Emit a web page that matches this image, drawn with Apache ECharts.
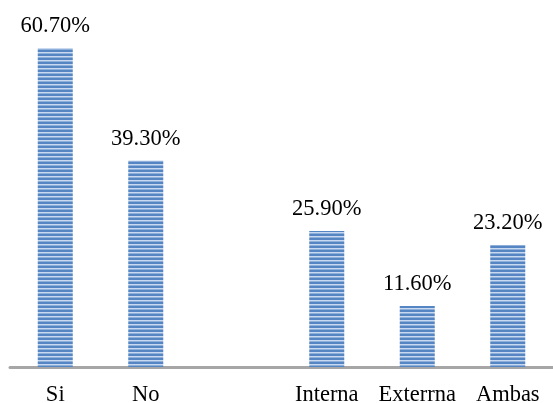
<!DOCTYPE html>
<html lang="es">
<head>
    <meta charset="UTF-8">
    <title>Respuestas</title>
    <script type="text/javascript" src="https://cdn.jsdelivr.net/npm/echarts@6/dist/echarts.min.js"></script>
    <style>
        html, body { margin: 0; padding: 0; background: #fff; }
    </style>
</head>
<body>
<div id="chart" style="width: 553px;height: 403px"></div>
<script type="text/javascript">
    // datos (el hueco entre los dos grupos es una categoria vacia)
    var categories = ['Si', 'No', '', 'Interna', 'Exterrna', 'Ambas'];
    var values = [60.7, 39.3, null, 25.9, 11.6, 23.2];

    // patron de rayas horizontales para las barras
    var stripe = document.createElement('canvas');
    stripe.width = 4;
    stripe.height = 4;
    var ctx = stripe.getContext('2d');
    ctx.fillStyle = '#5585c2';
    ctx.fillRect(0, 0, 4, 4);
    ctx.fillStyle = '#c8d9f0';
    ctx.fillRect(0, 0, 4, 1.5);

    var barData = [];
    for (var i = 0; i < values.length; i++) {
        barData.push(values[i] === null ? '-' : values[i]);
    }

    var chart = echarts.init(document.getElementById('chart'));
    var option = {
        animation: false,
        grid: { left: 10, right: 0, top: 48, bottom: 36, outerBoundsMode: 'none', containLabel: false },
        xAxis: {
            type: 'category',
            data: categories,
            axisTick: { show: false },
            axisLine: { lineStyle: { color: '#a6a6a6', width: 3 } },
            axisLabel: {
                interval: 0,
                color: '#000',
                fontFamily: 'Liberation Serif',
                fontSize: 22.5,
                margin: 17
            }
        },
        yAxis: {
            type: 'value',
            min: 0,
            max: 60.7,
            show: false,
            splitLine: { show: false }
        },
        series: [
            {
                type: 'bar',
                data: barData,
                barWidth: 35,
                itemStyle: {
                    color: { image: stripe, repeat: 'repeat' }
                },
                label: {
                    show: true,
                    position: 'top',
                    distance: 10,
                    color: '#000',
                    fontFamily: 'Liberation Serif',
                    fontSize: 22.5,
                    formatter: function (p) {
                        return p.value.toFixed(2) + '%';
                    }
                }
            }
        ]
    };
    chart.setOption(option);
</script>
</body>
</html>
